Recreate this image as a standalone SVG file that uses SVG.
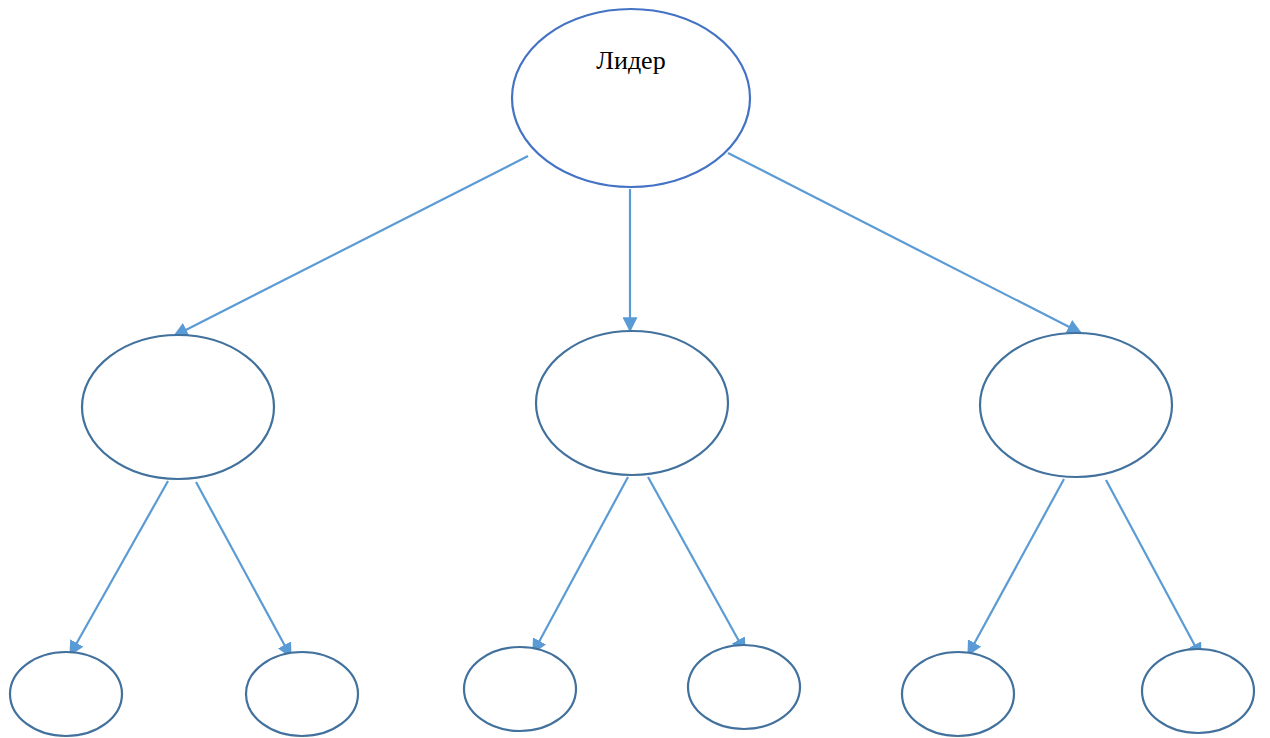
<svg xmlns="http://www.w3.org/2000/svg" width="1270" height="738" viewBox="0 0 1270 738">
<style>
.n{fill:#fff;stroke:#41719C;stroke-width:2.2}
.top{fill:#fff;stroke:#4472C4;stroke-width:2.2}
.c line{stroke:#5B9BD5;stroke-width:2.2;marker-end:url(#ah)}
.t{font-family:"Liberation Serif",serif;font-size:26px;fill:#000}
</style>
<defs>
<marker id="ah" viewBox="0 0 12 12" refX="11" refY="6" markerWidth="15" markerHeight="15" markerUnits="userSpaceOnUse" orient="auto">
<path d="M0,0 L12,6 L0,12 Z" fill="#5B9BD5"/>
</marker>
</defs>
<rect width="1270" height="738" fill="#fff"/>
<g class="c" id="connectors">
<line x1="528" y1="156" x2="174" y2="336"/>
<line x1="630" y1="189" x2="630" y2="331"/>
<line x1="728" y1="153" x2="1081" y2="333"/>
<line x1="168" y1="481" x2="70" y2="655"/>
<line x1="196" y1="482" x2="291" y2="657"/>
<line x1="628" y1="477" x2="533" y2="653"/>
<line x1="648" y1="477" x2="745" y2="652"/>
<line x1="1064" y1="479" x2="968" y2="655"/>
<line x1="1106" y1="480" x2="1201" y2="657"/>
</g>
<g id="leader"><ellipse class="top" cx="631" cy="98" rx="119" ry="89"/><text class="t" x="631" y="69" text-anchor="middle">Лидер</text></g>
<g id="m1"><ellipse class="n" cx="178" cy="407" rx="96" ry="72"/></g>
<g id="m2"><ellipse class="n" cx="632" cy="403" rx="96" ry="72"/></g>
<g id="m3"><ellipse class="n" cx="1076" cy="405" rx="96" ry="72"/></g>
<g id="b1"><ellipse class="n" cx="66" cy="694" rx="56" ry="42"/></g>
<g id="b2"><ellipse class="n" cx="302" cy="694" rx="56" ry="42"/></g>
<g id="b3"><ellipse class="n" cx="520" cy="689" rx="56" ry="42"/></g>
<g id="b4"><ellipse class="n" cx="744" cy="687" rx="56" ry="42"/></g>
<g id="b5"><ellipse class="n" cx="958" cy="694" rx="56" ry="42"/></g>
<g id="b6"><ellipse class="n" cx="1198" cy="691" rx="56" ry="42"/></g>
</svg>
